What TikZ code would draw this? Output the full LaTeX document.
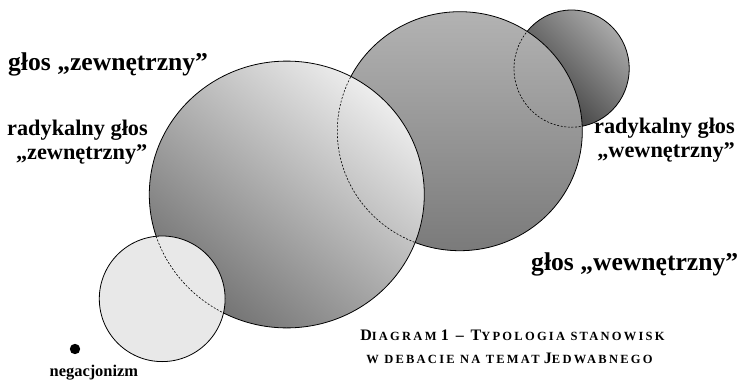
\documentclass[tikz,border=0pt]{standalone}
\usepackage{fontspec}
\setmainfont{Liberation Serif}
\newfontfamily\capfont[LetterSpace=18]{Liberation Serif}
\newcommand\capbig[1]{{\fontsize{16}{18}\selectfont #1}}
\newcommand\capsmall[1]{{\fontsize{12.5}{18}\selectfont #1}}
\begin{document}
\begin{tikzpicture}[x=1pt,y=-1pt,
  outline/.style={draw=black, line width=0.8pt},
  hidden/.style={draw=black, line width=0.6pt, dash pattern=on 2pt off 1.6pt},
  lblbig/.style={inner sep=0pt, font=\bfseries\fontsize{25.6}{28}\selectfont},
  lblmid/.style={inner sep=0pt, font=\bfseries\fontsize{22.3}{24}\selectfont},
  lblsmall/.style={inner sep=0pt, font=\bfseries\fontsize{16.4}{18}\selectfont},
  captxt/.style={inner sep=0pt, font=\capfont\bfseries}
]
\useasboundingbox (0,0) rectangle (740,381);
\coordinate (cTR) at (571.6,68.6);
\coordinate (cR) at (459.8,131.2);
\coordinate (cL) at (286.8,194.5);
\coordinate (cBL) at (162.2,298.8);
\def\ellTR{ellipse [x radius=57.6pt, y radius=58.6pt]}
\def\ellR{ellipse [x radius=122.5pt, y radius=119.5pt]}
\def\ellL{ellipse [x radius=137.5pt, y radius=133.4pt]}
\def\ellBL{ellipse [x radius=62.9pt, y radius=62.8pt]}
% small top-right circle
\path[outline, top color={rgb,1:red,0.66;green,0.66;blue,0.66}, bottom color={rgb,1:red,0.18;green,0.18;blue,0.18}, shading angle=-45] (cTR) \ellTR;
% big right circle
\path[outline, top color={rgb,1:red,0.70;green,0.70;blue,0.70}, bottom color={rgb,1:red,0.48;green,0.48;blue,0.48}] (cR) \ellR;
\begin{scope}
  \clip (cR) \ellR;
  \path[hidden] (cTR) \ellTR;
\end{scope}
% big left circle
\path[outline, top color={rgb,1:red,0.93;green,0.93;blue,0.93}, bottom color={rgb,1:red,0.45;green,0.45;blue,0.45}, shading angle=-40] (cL) \ellL;
\begin{scope}
  \clip (cL) \ellL;
  \path[hidden] (cR) \ellR;
\end{scope}
% small bottom-left circle
\path[outline, fill={rgb,1:red,0.91;green,0.91;blue,0.91}] (cBL) \ellBL;
\begin{scope}
  \clip (cBL) \ellBL;
  \path[hidden] (cL) \ellL;
\end{scope}
% labels
\node[lblbig, anchor=base west] (gz) at (8,70.7) {głos „zewnętrzny”};
\node[lblmid, anchor=base east] (rz1) at (148,135) {radykalny głos};
\node[lblmid, anchor=base east] (rz2) at (147.5,159) {„zewnętrzny”};
\node[lblmid, anchor=base east] (rw1) at (735,133) {radykalny głos};
\node[lblmid, anchor=base east] (rw2) at (735,157) {„wewnętrzny”};
\node[lblbig, anchor=base west] (gw) at (531,270) {głos „wewnętrzny”};
\node[circle, fill=black, inner sep=0pt, minimum size=10.4pt] (dot) at (75,349) {};
\node[lblsmall, anchor=base west] (neg) at (49.5,376) {negacjonizm};
\node[captxt, anchor=base] (cap1) at (512.5,340.7) {\capbig{D}\capsmall{IAGRAM} \capbig{1 – T}\capsmall{YPOLOGIA STANOWISK}};
\node[captxt, anchor=base] (cap2) at (509.5,363.3) {\capsmall{W DEBACIE NA TEMAT} \capbig{J}\capsmall{EDWABNEGO}};
\end{tikzpicture}
\end{document}
